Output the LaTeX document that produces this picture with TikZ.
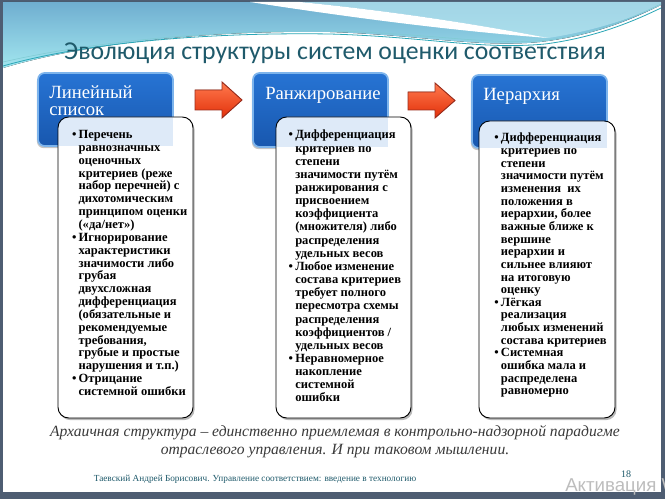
\documentclass[tikz,border=0pt]{standalone}
\usepackage{fontspec}
\setmainfont{Liberation Serif}
\newfontfamily\titlefont{Carlito}
\newfontfamily\wmfont{Liberation Sans}
\usetikzlibrary{shadows}
\definecolor{framec}{HTML}{4E5D72}
\definecolor{titlec}{HTML}{1F5A6B}
\definecolor{hdrtop}{HTML}{2774D4}
\definecolor{hdrbot}{HTML}{1857AE}
\definecolor{hdredge}{HTML}{7DB4EC}
\definecolor{arrtop}{HTML}{FF7A4E}
\definecolor{arrbot}{HTML}{E2300A}
\definecolor{arredge}{HTML}{9A2C1C}
\definecolor{wavetop}{HTML}{6FAED0}
\definecolor{wavebot}{HTML}{A2E6EF}
\definecolor{wavelight}{HTML}{B8E6F0}
\definecolor{tealline}{HTML}{2AA6B6}
\definecolor{captc}{HTML}{3A3A3A}
\definecolor{wmc}{HTML}{BDBDBD}
\tikzset{
  hdrbox/.style={rectangle, rounded corners=5pt, draw=hdredge, line width=1.3pt,
    top color=hdrtop, bottom color=hdrbot, minimum width=101.25pt, inner sep=0pt,
    drop shadow={shadow xshift=-0.8pt, shadow yshift=-1.6pt, opacity=.45}},
  hdrtext/.style={anchor=north west, inner sep=0pt, text=white, align=left,
    font=\fontsize{14}{13}\selectfont},
  whitebox/.style={rectangle, rounded corners=8pt, draw=black, line width=0.7pt,
    fill=white, inner sep=0pt,
    drop shadow={shadow xshift=1.2pt, shadow yshift=-1.6pt, opacity=.55}},
  bodytext/.style={anchor=north west, inner sep=0pt, align=left, text=black},
  arrowshape/.style={top color=arrtop, bottom color=arrbot, draw=arredge, line width=0.7pt},
}
\newcommand{\bul}{\llap{•\hspace{1.6pt}}}
\begin{document}
\begin{tikzpicture}[x=0.75pt,y=-0.75pt]
\useasboundingbox (0,0) rectangle (665,499);
\fill[framec] (0,0) rectangle (665,499);
\fill[white] (3,2) rectangle (661,492);
% top wave
\fill[top color=wavetop, bottom color=wavebot] (3,2) -- (661,2) -- (661,5)
  .. controls (640,15) and (600,35) .. (540,42)
  .. controls (480,48) and (420,35) .. (330,32)
  .. controls (200,30) and (80,45) .. (3,68) -- cycle;
\fill[wavelight, opacity=.7] (300,2) .. controls (400,12) and (480,25) .. (548,38)
  .. controls (600,30) and (640,15) .. (661,5) -- (661,2) -- cycle;
\fill[white] (250,2) -- (300,2) .. controls (400,12) and (480,25) .. (548,38)
  .. controls (470,32) and (380,22) .. (250,2) -- cycle;
\draw[tealline, line width=0.6pt] (3,66) .. controls (80,44) and (200,32) .. (330,34)
  .. controls (430,37) and (480,50) .. (545,44) .. controls (600,37) and (640,18) .. (661,8);
\draw[tealline!60, line width=0.4pt] (3,62) .. controls (90,42) and (210,30) .. (330,31)
  .. controls (430,33) and (490,46) .. (548,40) .. controls (600,33) and (640,14) .. (661,4);
% title
\node[anchor=base, inner sep=0pt, text=titlec, font=\titlefont\fontsize{19.3}{21}\selectfont] (title) at (335,60)
  {Эволюция структуры систем оценки соответствия};
% headers
\node[hdrbox, minimum height=54.75pt] (h1) at (105.5,109.5) {};
\node[hdrbox, minimum height=55.5pt] (h2) at (320.5,110) {};
\node[hdrbox, minimum height=54.75pt] (h3) at (539.5,111.5) {};
\node[hdrtext] (h1t) at (49,85) {Линейный\\список};
\node[hdrtext] (h2t) at (265,87) {Ранжирование};
\node[hdrtext] (h3t) at (483,88) {Иерархия};
% arrows
\filldraw[arrowshape] (195,90) -- (222,90) -- (222,82) -- (242,100) -- (222,118) -- (222,110) -- (195,110) -- cycle;
\filldraw[arrowshape] (408,92) -- (435,92) -- (435,83) -- (455,100.5) -- (435,118) -- (435,110) -- (408,110) -- cycle;
% white boxes
\node[whitebox, minimum width=101.25pt, minimum height=225.75pt] (w1) at (125.5,267.5) {};
\node[whitebox, minimum width=101.25pt, minimum height=225.75pt] (w2) at (343.5,267.5) {};
\node[whitebox, minimum width=102pt, minimum height=222.75pt] (w3) at (547,269.5) {};
% tint where headers lie under the boxes
\begin{scope}
\clip[rounded corners=8pt] (58,117) rectangle (193,418);
\fill[hdrtop, opacity=.15] (38,73) rectangle (173,146);
\end{scope}
\begin{scope}
\clip[rounded corners=8pt] (276,117) rectangle (411,418);
\fill[hdrtop, opacity=.15] (253,73) rectangle (388,147);
\end{scope}
\begin{scope}
\clip[rounded corners=8pt] (479,121) rectangle (615,418);
\fill[hdrtop, opacity=.15] (472,75) rectangle (607,148);
\end{scope}
% body texts
\node[bodytext, font=\fontsize{9.4}{9.64}\selectfont\bfseries] (t1) at (78.3,130) {%
\bul Перечень\\равнозначных\\оценочных\\критериев (реже\\набор перечней) с\\дихотомическим\\принципом оценки\\(«да/нет»)\\%
\bul Игнорирование\\характеристики\\значимости либо\\грубая\\двухсложная\\дифференциация\\(обязательные и\\рекомендуемые\\требования,\\грубые и простые\\нарушения и т.п.)\\%
\bul Отрицание\\системной ошибки};
\node[bodytext, font=\fontsize{9.4}{9.86}\selectfont\bfseries] (t2) at (295,130) {%
\bul Дифференциация\\критериев по\\степени\\значимости путём\\ранжирования с\\присвоением\\коэффициента\\(множителя) либо\\распределения\\удельных весов\\%
\bul Любое изменение\\состава критериев\\требует полного\\пересмотра схемы\\распределения\\коэффициентов /\\удельных весов\\%
\bul Неравномерное\\накопление\\системной\\ошибки};
\node[bodytext, font=\fontsize{9.4}{9.48}\selectfont\bfseries] (t3) at (500.7,133) {%
\bul Дифференциация\\критериев по\\степени\\значимости путём\\изменения\ \ их\\положения в\\иерархии, более\\важные ближе к\\вершине\\иерархии и\\сильнее влияют\\на итоговую\\оценку\\%
\bul Лёгкая\\реализация\\любых изменений\\состава критериев\\%
\bul Системная\\ошибка мала и\\распределена\\равномерно};
% caption
\node[anchor=base, inner sep=0pt, text=captc, font=\fontsize{11.7}{14}\selectfont\itshape] (cap1) at (335,436)
  {Архаичная структура – единственно приемлемая в контрольно-надзорной парадигме};
\node[anchor=base, inner sep=0pt, text=captc, font=\fontsize{11.7}{14}\selectfont\itshape] (cap2) at (335,455)
  {отраслевого управления. И при таковом мышлении.};
% footer
\node[anchor=base, inner sep=0pt, text=titlec, font=\fontsize{6.95}{8}\selectfont] (foot) at (255,481)
  {Таевский Андрей Борисович. Управление соответствием: введение в технологию};
\node[anchor=base, inner sep=0pt, text=titlec, font=\fontsize{7.5}{8}\selectfont] (pg) at (626,478) {18};
\node[anchor=base west, inner sep=0pt, text=wmc, font=\wmfont\fontsize{14}{16}\selectfont] (wm) at (565,491) {Активация W};
\end{tikzpicture}
\end{document}
